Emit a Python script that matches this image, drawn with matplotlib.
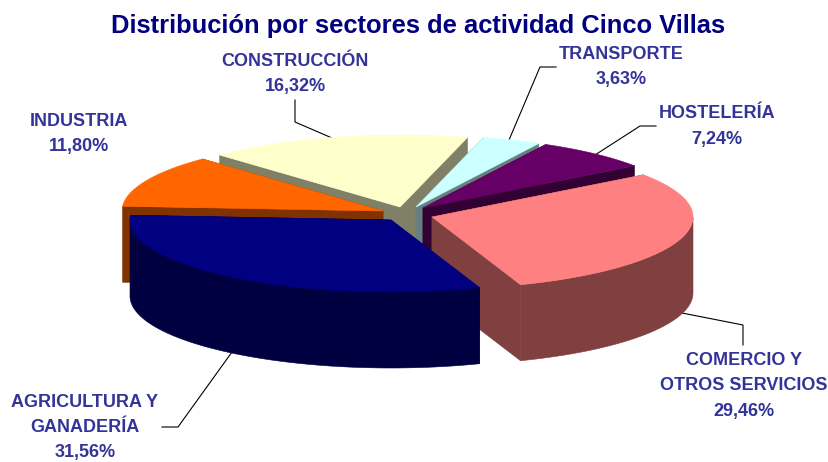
#!/usr/bin/python3

import numpy as np
import matplotlib
matplotlib.use("Agg")
import matplotlib.pyplot as plt
from matplotlib.patches import Polygon

sectores = ["TRANSPORTE", "HOSTELERÍA", "COMERCIO Y\nOTROS SERVICIOS",
            "AGRICULTURA Y\nGANADERÍA", "INDUSTRIA", "CONSTRUCCIÓN"]
porcentajes = [3.63, 7.24, 29.46, 31.56, 11.80, 16.32]

colores = ["#CCFFFF", "#660066", "#FF8080", "#000080", "#FF6600", "#FFFFCC"]
lados = ["#668080", "#330033", "#804040", "#000040", "#803300", "#808066"]

# vertice de cada porcion (porcion separada), en pixeles
vertices = [(416, 207), (423, 208), (432, 217), (391, 220), (383, 211), (400, 207)]
pos_texto = [(621, 67), (717, 126.5), (744, 386), (85, 427.5), (79, 134), (295, 74)]
guias = [[(509, 140), (540, 67), (556, 67)],
         [(595, 155), (640, 126), (656, 126)],
         [(682, 313), (743, 325), (743, 345)],
         [(232, 352), (178, 427), (162, 427)],
         [],
         [(295, 100), (295, 122), (332, 138)]]
orden = [5, 0, 1, 4, 2, 3]

rx, ry, alto = 261, 72, 76
inicio = 75.0
color_texto = "#333399"

plt.rcParams["font.family"] = ["Liberation Sans", "DejaVu Sans"]

fig = plt.figure(figsize=(8.29, 4.62), dpi=100)
ax = fig.add_axes([0, 0, 1, 1])
ax.set_xlim(0, 829)
ax.set_ylim(462, 0)
ax.axis("off")

# angulos de cada porcion a partir de los porcentajes, en sentido horario
barrido = np.array(porcentajes) / np.sum(porcentajes) * 360
fin = inicio - np.cumsum(barrido)
ini = np.concatenate(([inicio], fin[:-1]))


def borde(v, t):
    t = np.radians(t)
    return np.column_stack((v[0] + rx * np.cos(t), v[1] - ry * np.sin(t)))


def cara(pts, color, z):
    ax.add_patch(Polygon(pts, closed=True, facecolor=color, edgecolor=color,
                         linewidth=0.4, zorder=z))


for z, i in enumerate(orden):
    v = vertices[i]
    base = 10 + z * 5
    ang = np.linspace(ini[i], fin[i], 200)
    arco = borde(v, ang)
    bajar = np.array([0, alto])

    # paredes radiales
    for extremo in (arco[0], arco[-1]):
        cara([v, extremo, extremo + bajar, np.array(v) + bajar], lados[i], base)

    # pared exterior, solo la parte que mira al frente
    frente = arco[np.sin(np.radians(ang)) <= 0]
    if len(frente) > 1:
        cara(np.vstack((frente, (frente + bajar)[::-1])), lados[i], base + 1)

    # cara superior
    cara(np.vstack(([v], arco)), colores[i], base + 2)

for i, sector in enumerate(sectores):
    valor = f"{porcentajes[i]:.2f}".replace(".", ",") + "%"
    ax.text(pos_texto[i][0], pos_texto[i][1], sector + "\n" + valor,
            ha="center", va="center", color=color_texto, fontsize=13,
            fontweight="bold", linespacing=1.65, zorder=60)
    if guias[i]:
        ax.plot(*zip(*guias[i]), color="black", linewidth=0.8, zorder=5)

ax.text(418, 26, "Distribución por sectores de actividad Cinco Villas",
        ha="center", va="center", color="#000080", fontsize=18.4,
        fontweight="bold", zorder=60)

fig.savefig("out.png", dpi=100)
